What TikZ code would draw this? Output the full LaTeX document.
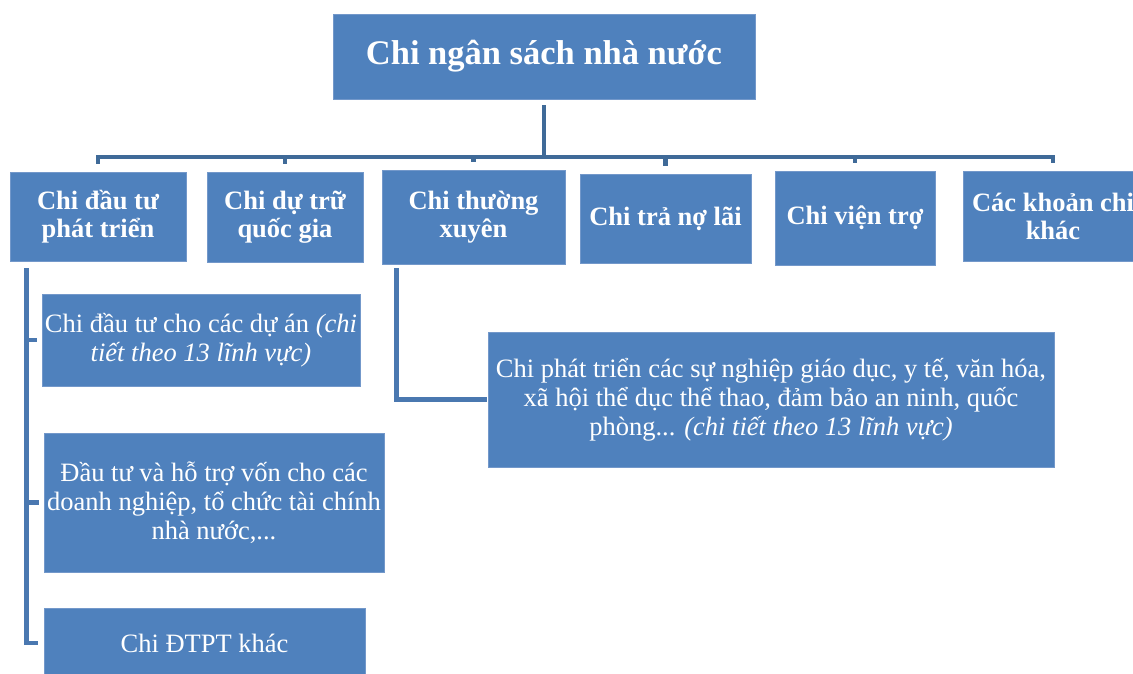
\documentclass[tikz,border=0pt]{standalone}
\usepackage{fontspec}
\setmainfont{Liberation Serif}
\definecolor{boxblue}{HTML}{4F81BD}
\definecolor{boxedge}{HTML}{7398CA}
\definecolor{busblue}{HTML}{3F6A98}
\definecolor{subblue}{HTML}{4A78B0}
\tikzset{
  box/.style={rectangle, fill=boxblue, draw=boxedge, line width=0.8pt, inner sep=0pt, text=white, align=center},
  rootbox/.style={box, font=\fontsize{34.5}{40}\selectfont\bfseries},
  topbox/.style={box, font=\fontsize{26.5}{28}\selectfont\bfseries},
  subbox/.style={box, font=\fontsize{26.5}{29}\selectfont},
  conn/.style={draw=busblue, line width=4.3pt},
  conntwo/.style={draw=subblue, line width=4.5pt},
}
\begin{document}
\begin{tikzpicture}[x=1pt,y=-1pt]
\useasboundingbox (0,0) rectangle (1133,673);
\clip (0,0) rectangle (1133,673);
\fill[white] (0,0) rectangle (1133,673);

\node[rootbox, minimum width=422pt, minimum height=85pt] (root) at (544,56.5) {Chi ngân sách nhà nước};

\node[topbox, minimum width=176pt, minimum height=89pt] (b1) at (98,216.5) {Chi đầu tư\\phát triển};
\node[topbox, minimum width=156pt, minimum height=90pt] (b2) at (285,217) {Chi dự trữ\\quốc gia};
\node[topbox, minimum width=183pt, minimum height=94pt] (b3) at (473.5,217) {Chi thường\\xuyên};
\node[topbox, minimum width=171pt, minimum height=89pt] (b4) at (665.5,218.5) {Chi trả nợ lãi};
\node[topbox, minimum width=160pt, minimum height=94pt] (b5) at (855,218) {Chi viện trợ};
\node[topbox, minimum width=180pt, minimum height=90pt] (b6) at (1053,216) {Các khoản chi\\khác};

\node[subbox, minimum width=318pt, minimum height=92pt] (sa) at (201,340) {Chi đầu tư cho các dự án \textit{(chi}\\\textit{tiết theo 13 lĩnh vực)}};
\node[subbox, minimum width=340pt, minimum height=139pt] (sb) at (214,502.5) {Đầu tư và hỗ trợ vốn cho các\\doanh nghiệp, tổ chức tài chính\\nhà nước,...};
\node[subbox, minimum width=321pt, minimum height=70pt] (sc) at (204.5,643) {Chi ĐTPT khác};
\node[subbox, minimum width=566pt, minimum height=135pt] (sd) at (771,399.5) {Chi phát triển các sự nghiệp giáo dục, y tế, văn hóa,\\xã hội thể dục thể thao, đảm bảo an ninh, quốc\\phòng... \textit{(chi tiết theo 13 lĩnh vực)}};

\coordinate (bus) at (544,157);
\foreach \b in {b1,b2,b3,b4,b5,b6}{
  \draw[conn, shorten <=6pt, shorten >=8pt] (root.south) -- (root.south |- bus) -| (\b.north);
}

\draw[conntwo, shorten <=7pt, shorten >=5pt] ([xshift=17pt]b1.south west) |- (sa.west);
\draw[conntwo, shorten <=7pt, shorten >=5pt] ([xshift=17pt]b1.south west) |- (sb.west);
\draw[conntwo, shorten <=7pt, shorten >=6pt] ([xshift=17pt]b1.south west) |- (sc.west);
\draw[conntwo, shorten <=4pt, shorten >=1pt] ([xshift=15pt]b3.south west) |- (sd.west);
\end{tikzpicture}
\end{document}
